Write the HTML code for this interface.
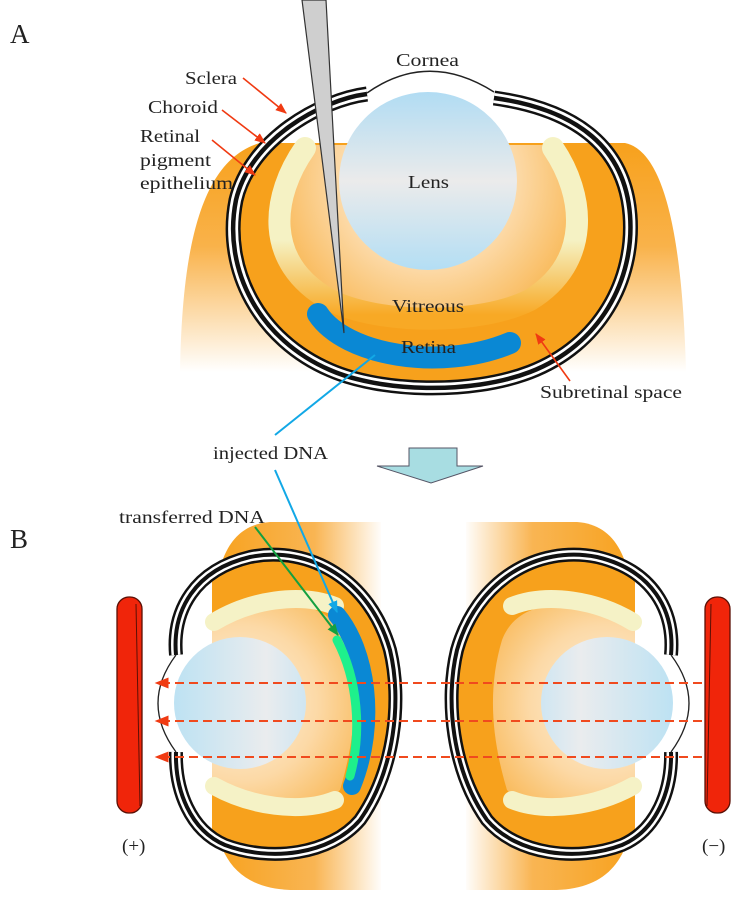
<!DOCTYPE html>
<html><head><meta charset="utf-8"><style>
html,body{margin:0;padding:0;background:#fff}
svg{display:block}
text{font-family:"Liberation Serif",serif;fill:#222}
</style></head><body>
<svg width="749" height="910" viewBox="0 0 749 910" xmlns="http://www.w3.org/2000/svg">
<defs>
<linearGradient id="bgA" x1="0" y1="143" x2="0" y2="372" gradientUnits="userSpaceOnUse">
<stop offset="0" stop-color="#f7a11c"/><stop offset="0.45" stop-color="#f9b24a"/><stop offset="1" stop-color="#fff"/></linearGradient>
<linearGradient id="bgL" x1="212" y1="0" x2="383" y2="0" gradientUnits="userSpaceOnUse">
<stop offset="0" stop-color="#f7a11c"/><stop offset="0.6" stop-color="#f9b553"/><stop offset="1" stop-color="#fff"/></linearGradient>
<linearGradient id="lensA" x1="0" y1="0" x2="0" y2="1">
<stop offset="0" stop-color="#b1dcf3"/><stop offset="0.5" stop-color="#ebebeb"/><stop offset="1" stop-color="#b3def4"/></linearGradient>
<linearGradient id="lensB" x1="0" y1="0" x2="1" y2="0">
<stop offset="0" stop-color="#bde2f3"/><stop offset="0.7" stop-color="#eaecee"/><stop offset="1" stop-color="#cfe6f2"/></linearGradient>
<radialGradient id="inA" cx="428" cy="180" r="150" gradientUnits="userSpaceOnUse">
<stop offset="0" stop-color="#fdf3e3"/><stop offset="0.6" stop-color="#fcd9a6"/><stop offset="1" stop-color="#f9bd62"/></radialGradient>
<radialGradient id="inB" cx="240" cy="703" r="130" gradientUnits="userSpaceOnUse">
<stop offset="0" stop-color="#fdf3e3"/><stop offset="0.6" stop-color="#fcd9a6"/><stop offset="1" stop-color="#f9bd62"/></radialGradient>
<linearGradient id="uA" x1="0" y1="240" x2="0" y2="315" gradientUnits="userSpaceOnUse">
<stop offset="0" stop-color="#f5f2c4"/><stop offset="1" stop-color="#f8a925"/></linearGradient>
<clipPath id="cA"><path d="M367,94 C320,100 250,140 236,200 C222,270 260,340 330,370 C380,392 470,395 530,372 C600,345 635,280 630,215 C625,150 580,110 494,98 Z"/></clipPath>
<clipPath id="cB"><path d="M176,655 C172,610 195,570 250,557 C310,545 370,580 390,650 C402,700 395,770 360,820 C330,855 270,862 225,845 C190,830 175,790 176,752 Z"/></clipPath>
<marker id="ar" viewBox="0 0 10 10" refX="9" refY="5" markerWidth="7" markerHeight="7" orient="auto"><path d="M0,1 L10,5 L0,9 Z" fill="#f03a12"/></marker>
<marker id="ab" viewBox="0 0 10 10" refX="9" refY="5" markerWidth="6" markerHeight="6" orient="auto"><path d="M0,1 L10,5 L0,9 Z" fill="#12a8e6"/></marker>
<marker id="ag" viewBox="0 0 10 10" refX="9" refY="5" markerWidth="6" markerHeight="6" orient="auto"><path d="M0,1 L10,5 L0,9 Z" fill="#14a040"/></marker>
<g id="shellB">
<path d="M176,655 C172,610 195,570 250,557 C310,545 370,580 390,650 C402,700 395,770 360,820 C330,855 270,862 225,845 C190,830 175,790 176,752" fill="none" stroke="#111" stroke-width="14"/>
<path d="M176,655 C172,610 195,570 250,557 C310,545 370,580 390,650 C402,700 395,770 360,820 C330,855 270,862 225,845 C190,830 175,790 176,752" fill="none" stroke="#fff" stroke-width="9"/>
<path d="M176,655 C172,610 195,570 250,557 C310,545 370,580 390,650 C402,700 395,770 360,820 C330,855 270,862 225,845 C190,830 175,790 176,752" fill="none" stroke="#111" stroke-width="4"/>
<path d="M176,655 Q140,703 176,752" fill="none" stroke="#222" stroke-width="1.3"/>
</g>
<g id="eyeB">
<path d="M381,522 L270,522 C230,525 215,560 213,620 L213,800 C215,860 240,888 290,890 L381,890 Z" fill="url(#bgL)"/>
<g clip-path="url(#cB)"><rect x="212" y="540" width="200" height="330" fill="#f7a11c"/></g>
<path d="M212,620 C280,595 330,600 345,640 C360,690 355,740 340,790 C310,820 260,815 212,790 Z" fill="url(#inB)"/>
<path d="M214,622 C250,600 300,592 335,606" fill="none" stroke="#f5f2c6" stroke-width="18" stroke-linecap="round"/>
<path d="M214,786 C250,806 300,814 335,800" fill="none" stroke="#f5f2c6" stroke-width="18" stroke-linecap="round"/>
<circle cx="240" cy="703" r="66" fill="url(#lensB)"/>
</g>
</defs>

<text x="10" y="43" font-size="27">A</text>
<text x="10" y="548" font-size="27">B</text>

<!-- Panel A -->
<path d="M260,143 L625,143 C660,150 682,220 686,372 L180,372 C182,250 200,160 260,143 Z" fill="url(#bgA)"/>
<g clip-path="url(#cA)"><rect x="220" y="143" width="420" height="260" fill="#f7a11c"/></g>
<path d="M300,145 C270,190 262,260 330,300 C380,325 480,325 530,300 C590,262 585,190 555,145 Z" fill="url(#inA)"/>
<path d="M305,148 C272,195 262,262 330,300 C380,325 480,325 530,300 C592,262 585,195 553,148" fill="none" stroke="url(#uA)" stroke-width="22" stroke-linecap="round"/>
<path d="M367,94 C320,100 250,140 236,200 C222,270 260,340 330,370 C380,392 470,395 530,372 C600,345 635,280 630,215 C625,150 580,110 494,98" fill="none" stroke="#111" stroke-width="15"/>
<path d="M367,94 C320,100 250,140 236,200 C222,270 260,340 330,370 C380,392 470,395 530,372 C600,345 635,280 630,215 C625,150 580,110 494,98" fill="none" stroke="#fff" stroke-width="10"/>
<path d="M367,94 C320,100 250,140 236,200 C222,270 260,340 330,370 C380,392 470,395 530,372 C600,345 635,280 630,215 C625,150 580,110 494,98" fill="none" stroke="#111" stroke-width="4.5"/>
<path d="M367,93 Q428,50 494,92" fill="none" stroke="#222" stroke-width="1.5"/>
<circle cx="428" cy="181" r="89" fill="url(#lensA)"/>
<path d="M318,314 C345,355 440,372 510,343" fill="none" stroke="#0a88d4" stroke-width="22" stroke-linecap="round"/>
<polygon points="302,0 326,0 344,333" fill="#cfcfcf" stroke="#333" stroke-width="1.2"/>

<g font-size="18">
<text x="396" y="66" textLength="63" lengthAdjust="spacingAndGlyphs">Cornea</text>
<text x="408" y="188" textLength="41" lengthAdjust="spacingAndGlyphs">Lens</text>
<text x="392" y="312" textLength="72" lengthAdjust="spacingAndGlyphs">Vitreous</text>
<text x="401" y="353" textLength="55" lengthAdjust="spacingAndGlyphs">Retina</text>
<text x="185" y="84" textLength="52" lengthAdjust="spacingAndGlyphs">Sclera</text>
<text x="148" y="113" textLength="70" lengthAdjust="spacingAndGlyphs">Choroid</text>
<text x="140" y="142" textLength="60" lengthAdjust="spacingAndGlyphs">Retinal</text>
<text x="140" y="166" textLength="71" lengthAdjust="spacingAndGlyphs">pigment</text>
<text x="140" y="189" textLength="93" lengthAdjust="spacingAndGlyphs">epithelium</text>
<text x="540" y="398" textLength="142" lengthAdjust="spacingAndGlyphs">Subretinal space</text>
<text x="213" y="459" textLength="115" lengthAdjust="spacingAndGlyphs">injected DNA</text>
<text x="119" y="523" textLength="146" lengthAdjust="spacingAndGlyphs">transferred DNA</text>
</g>
<line x1="243" y1="78" x2="286" y2="113" stroke="#f03a12" stroke-width="1.6" marker-end="url(#ar)"/>
<line x1="222" y1="110" x2="265" y2="143" stroke="#f03a12" stroke-width="1.6" marker-end="url(#ar)"/>
<line x1="212" y1="140" x2="255" y2="175" stroke="#f03a12" stroke-width="1.6" marker-end="url(#ar)"/>
<line x1="570" y1="381" x2="536" y2="334" stroke="#f03a12" stroke-width="1.6" marker-end="url(#ar)"/>

<!-- middle -->
<line x1="375" y1="355" x2="275" y2="435" stroke="#12a8e6" stroke-width="2"/>
<polygon points="409,448 457,448 457,466 483,466 431,483 377,466 409,466" fill="#a8dde2" stroke="#556" stroke-width="1"/>

<!-- Panel B -->
<use href="#eyeB"/>
<g transform="translate(847,0) scale(-1,1)"><use href="#eyeB"/></g>
<path d="M337,615 C366,650 378,722 352,786" fill="none" stroke="#0a88d4" stroke-width="18" stroke-linecap="round"/>
<path d="M337,640 C358,680 362,732 350,776" fill="none" stroke="#1ef08c" stroke-width="9" stroke-linecap="round"/>
<use href="#shellB"/>
<g transform="translate(847,0) scale(-1,1)"><use href="#shellB"/></g>

<line x1="275" y1="470" x2="337" y2="612" stroke="#12a8e6" stroke-width="2" marker-end="url(#ab)"/>
<line x1="255" y1="527" x2="338" y2="635" stroke="#14a040" stroke-width="2" marker-end="url(#ag)"/>

<g stroke="#f04a1e" stroke-width="2" stroke-dasharray="9 5" marker-end="url(#ar)">
<line x1="702" y1="683" x2="156" y2="683"/>
<line x1="702" y1="721" x2="156" y2="721"/>
<line x1="702" y1="757" x2="156" y2="757"/>
</g>
<rect x="117" y="597" width="25" height="216" rx="12" fill="#f0250a" stroke="#5a1006" stroke-width="1.3"/>
<line x1="136" y1="604" x2="140" y2="806" stroke="#5a1006" stroke-width="1"/>
<rect x="705" y="597" width="25" height="216" rx="12" fill="#f0250a" stroke="#5a1006" stroke-width="1.3"/>
<line x1="711" y1="604" x2="707" y2="806" stroke="#5a1006" stroke-width="1"/>
<text x="122" y="852" font-size="19">(+)</text>
<text x="702" y="852" font-size="19">(−)</text>
</svg>
</body></html>
